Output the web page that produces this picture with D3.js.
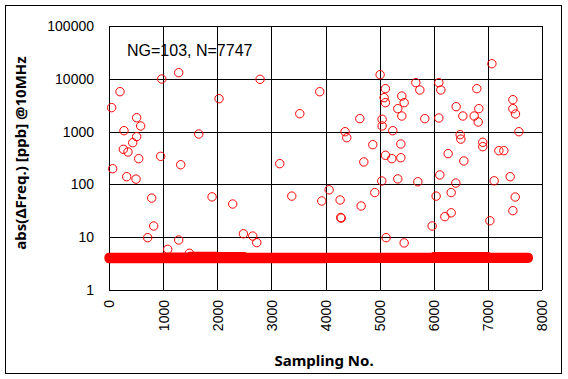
<!DOCTYPE html>
<html>
<head>
<meta charset="utf-8">
<script src="https://cdn.jsdelivr.net/npm/d3@7"></script>
<style>
  body { margin: 0; background: #fff; }
  text { font-family: Arial, "Liberation Sans", sans-serif; fill: #000; }
  .tick-label { font-size: 14px; }
  .axis-title { font-family: "Noto Sans", sans-serif; font-size: 15px; font-weight: bold; }
</style>
</head>
<body>
<script>
// NG samples (sample index, |dFreq| in ppb)
const ngIndex = [974, 1288, 203, 49, 511, 585, 277, 511, 1658, 2033, 2791, 3525, 3894,
  5009, 7074, 5107, 5083, 5107, 5046, 5046, 5669, 5743, 5410, 5453, 5336, 5410, 4634,
  4362, 4393, 5243, 5835, 6094, 6131, 6094, 6414, 6538, 6796, 6833, 6747, 6821, 6488,
  6500, 7462, 7462, 7510, 7573, 6906, 6906, 4874, 5392, 5108, 5225, 5392, 4708, 6266,
  6556, 7203, 7295, 7412, 7116, 6112, 6408, 6322, 6044, 5706, 5336, 5040, 4911, 4067,
  3931, 4270, 4658, 4282, 4290, 6205, 6322, 5970, 7037, 7505, 7462, 5120, 5453, 438,
  265, 351, 549, 955, 1325, 68, 327, 499, 3155, 789, 1904, 2286, 3377, 826, 715, 1288,
  2483, 2656, 2730, 1085, 1485];
const ngValue = [9900, 13060, 5700, 2840, 1830, 1276, 1040, 802, 900, 4200, 9780, 2183, 5700,
  11970, 19300, 6500, 4390, 3530, 1710, 1277, 8450, 6140, 4720, 3530, 2716, 1973, 1758,
  995, 766, 1040, 1758, 8450, 6140, 1810, 2965, 1973, 6500, 2716, 1973, 1520, 874,
  720, 4020, 2716, 2154, 995, 627, 518, 565, 582, 356, 307, 320, 266, 382,
  278, 435, 435, 140, 117, 151, 106, 70, 60, 112, 127, 116, 70, 79,
  48.5, 50.7, 39, 23.6, 23, 24.5, 29, 16.3, 20.5, 57.7, 31.8, 9.8, 7.8, 616,
  462, 411, 307, 340, 236, 198, 140, 126, 247, 55, 58, 42.5, 60, 16.3, 9.8, 8.85,
  11.6, 10.5, 7.9, 5.9, 4.96];

// good samples: min / max level per block of samples
const bandStart = [1, 500, 1000, 1500, 2000, 2500, 3000, 3500, 4000, 4500, 5000, 5500, 6000, 6500, 7000];
const bandEnd   = [500, 1000, 1500, 2000, 2500, 3000, 3500, 4000, 4500, 5000, 5500, 6000, 6500, 7000, 7747];
const bandLow   = [3.93, 3.93, 3.93, 3.93, 3.93, 3.95, 3.95, 3.95, 3.97, 3.97, 3.97, 3.98, 3.98, 3.98, 4.0];
const bandHigh  = [4.15, 4.15, 4.2, 4.3, 4.25, 4.15, 4.15, 4.15, 4.15, 4.15, 4.15, 4.15, 4.25, 4.25, 4.15];

const xTicks = [0, 1000, 2000, 3000, 4000, 5000, 6000, 7000, 8000];
const yTicks = [1, 10, 100, 1000, 10000, 100000];

const svgWidth = 568, svgHeight = 379;
const plot = {left: 109, right: 542, top: 26, bottom: 290};

const svg = d3.select('body').append('svg')
    .attr('width', svgWidth)
    .attr('height', svgHeight);

// outer frame
svg.append('rect')
    .attr('x', 5.5).attr('y', 5.5)
    .attr('width', 556).attr('height', 368)
    .attr('fill', 'none').attr('stroke', '#000');

const xScale = d3.scaleLinear().domain([0, 8000]).range([plot.left, plot.right]);
const yScale = d3.scaleLog().domain([1, 100000]).range([plot.bottom, plot.top]);

// grid
svg.append('g').selectAll('line').data(xTicks).join('line')
    .attr('x1', d => Math.round(xScale(d)) + 0.5).attr('x2', d => Math.round(xScale(d)) + 0.5)
    .attr('y1', plot.top).attr('y2', plot.bottom)
    .attr('stroke', '#000');
svg.append('g').selectAll('line').data(yTicks).join('line')
    .attr('y1', d => Math.round(yScale(d)) + 0.5).attr('y2', d => Math.round(yScale(d)) + 0.5)
    .attr('x1', plot.left).attr('x2', plot.right)
    .attr('stroke', '#000');

// tick labels
svg.append('g').selectAll('text').data(yTicks).join('text')
    .attr('class', 'tick-label')
    .attr('x', 94)
    .attr('y', d => yScale(d))
    .attr('dy', '0.35em')
    .attr('text-anchor', 'end')
    .text(d => d);
svg.append('g').selectAll('text').data(xTicks).join('text')
    .attr('class', 'tick-label')
    .attr('text-anchor', 'end')
    .attr('dy', '0.35em')
    .attr('transform', d => `translate(${xScale(d) + 0.5}, 300) rotate(-90)`)
    .text(d => d);

// band of normal samples
const bandPts = [];
bandStart.forEach((s, i) => {
    bandPts.push({x: s, lo: bandLow[i], hi: bandHigh[i]});
    bandPts.push({x: bandEnd[i], lo: bandLow[i], hi: bandHigh[i]});
});
const band = d3.area()
    .x(d => xScale(d.x))
    .y0(d => yScale(d.lo))
    .y1(d => yScale(d.hi));
svg.append('path')
    .datum(bandPts)
    .attr('d', band)
    .attr('fill', '#ff0000')
    .attr('stroke', '#ff0000')
    .attr('stroke-width', 9.4)
    .attr('stroke-linejoin', 'round')
    .attr('stroke-linecap', 'round');

// NG markers
svg.append('g').selectAll('circle').data(ngIndex).join('circle')
    .attr('cx', d => xScale(d))
    .attr('cy', (d, i) => yScale(ngValue[i]))
    .attr('r', 4.2)
    .attr('fill', 'none')
    .attr('stroke', '#ff0000')
    .attr('stroke-width', 1);

// labels
svg.append('text')
    .attr('x', 127).attr('y', 56)
    .style('font-size', '16px')
    .text('NG=103, N=7747');

svg.append('text')
    .attr('class', 'axis-title')
    .attr('text-anchor', 'middle')
    .attr('transform', `translate(26, 153) rotate(-90)`)
    .text('abs(ΔFreq.) [ppb] @10MHz');

svg.append('text')
    .attr('class', 'axis-title')
    .attr('text-anchor', 'middle')
    .attr('x', 324).attr('y', 366)
    .text('Sampling No.');
</script>
</body>
</html>
